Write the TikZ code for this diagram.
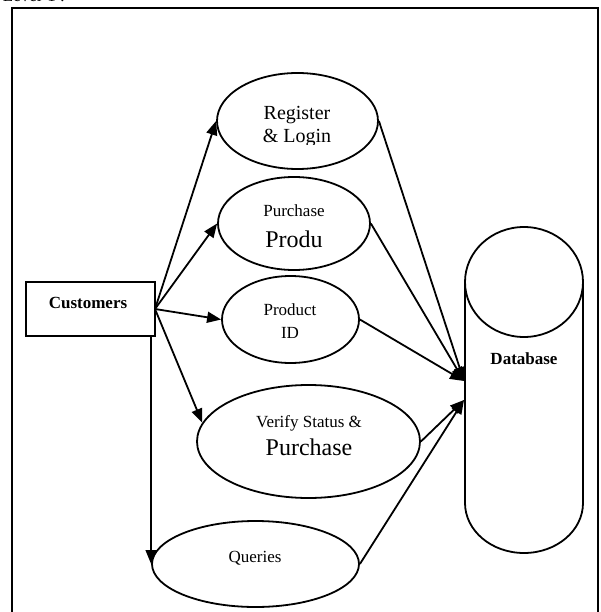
\documentclass[tikz,border=0pt]{standalone}
\usepackage{fontspec}
\setmainfont{Liberation Serif}
\usetikzlibrary{shapes.geometric,arrows.meta}
\begin{document}
\begin{tikzpicture}[x=1pt,y=-1pt,
  line width=1.8pt,
  proc/.style={ellipse,draw,inner sep=0pt},
  txt/.style={anchor=base,inner sep=0pt,font=\fontsize{17}{20}\selectfont},
  bigtxt/.style={anchor=base,inner sep=0pt,font=\fontsize{24}{28}\selectfont},
  flow/.style={-{Triangle[length=14pt,width=11pt]}}]
\useasboundingbox (0,0) rectangle (600,612);

% heading, cut off by the page top
\begin{scope}
  \clip (0,0) rectangle (600,612);
  \node[txt,anchor=base west] (level) at (2,1.5) {Level-1 :};
\end{scope}

% outer frame
\draw (12,612) -- (12,8) -- (598,8) -- (598,612);

% external entity
\node[draw,minimum width=129pt,minimum height=54pt,inner sep=0pt] (cust) at (90.5,309) {};
\node[txt,font=\fontsize{17}{20}\selectfont\bfseries] (custlbl) at (88,308) {Customers};

% processes
\node[proc,minimum width=161pt,minimum height=96pt] (reg) at (297.5,121) {};
\node[proc,minimum width=152pt,minimum height=93pt] (pur) at (294,223.5) {};
\node[proc,minimum width=137pt,minimum height=87pt] (pid) at (290.5,319.5) {};
\node[proc,minimum width=223pt,minimum height=113pt] (ver) at (308.5,441.5) {};
\node[proc,minimum width=207pt,minimum height=86pt] (qry) at (255.5,564) {};

% process labels
\node[txt,font=\fontsize{20}{24}\selectfont] (reg1) at (297,120) {Register};
\begin{scope}
  \clip (200,126) rectangle (400,144.5);
  \node[txt,font=\fontsize{20}{24}\selectfont] (reg2) at (297,143) {\& Login};
\end{scope}
\node[txt] (pur1) at (294,217) {Purchase};
\node[bigtxt] (pur2) at (294,247) {Produ};
\node[txt] (pid1) at (290,315) {Product};
\node[txt] (pid2) at (290,338) {ID};
\node[txt] (ver1) at (309,427) {Verify Status \&};
\node[bigtxt] (ver2) at (309,455) {Purchase};
\node[txt] (qry1) at (255,562) {Queries};

% data store
\draw (465,282) -- (465,503) arc[start angle=180,end angle=360,x radius=59,y radius=-50] -- (583,282);
\draw (524,282) ellipse[x radius=59,y radius=55];
\node[txt,font=\fontsize{17}{20}\selectfont\bfseries] (db) at (524,364) {Database};
\coordinate (dbin1) at (464,381);
\coordinate (dbin2) at (464,400);

% customer to processes
\coordinate (cout) at (155,309);
\draw[flow] (cout) -- (reg.west);
\draw[flow] (cout) -- (pur.west);
\draw[flow] (cout) -- (pid.west);
\draw[flow] (cout) -- (ver.170);
\draw[flow] (cust.south east -| qry.west) -- (qry.west);

% processes to data store
\draw[flow] (reg.east) -- (dbin1);
\draw[flow] (pur.east) -- (dbin1);
\draw[flow] (pid.east) -- (dbin1);
\draw[flow] (ver.east) -- (dbin2);
\draw[flow] (qry.east) -- (dbin2);
\end{tikzpicture}
\end{document}
